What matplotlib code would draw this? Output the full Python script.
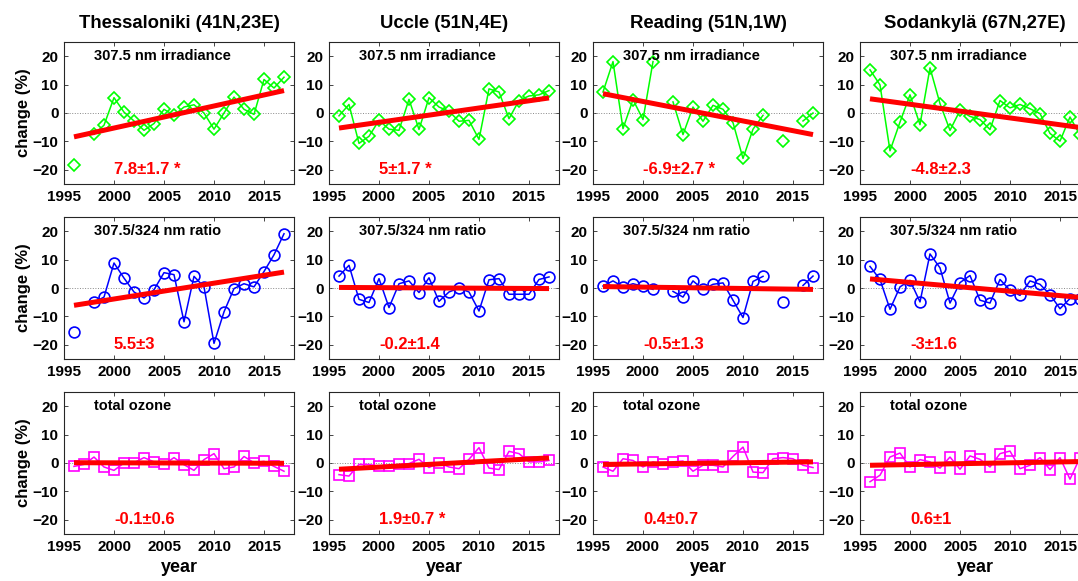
import numpy as np
import matplotlib.pyplot as plt

plt.rcParams['font.family'] = ['Liberation Sans', 'DejaVu Sans']
plt.rcParams['font.weight'] = 'bold'

nan = np.nan
years = [1996, 1997, 1998, 1999, 2000, 2001, 2002, 2003, 2004, 2005, 2006,
         2007, 2008, 2009, 2010, 2011, 2012, 2013, 2014, 2015, 2016, 2017]

stations = ['Thessaloniki (41N,23E)', 'Uccle (51N,4E)', 'Reading (51N,1W)', 'Sodankylä (67N,27E)']
row_names = ['307.5 nm irradiance', '307.5/324 nm ratio', 'total ozone']

# 307.5 nm irradiance (% change)
irr_thessaloniki = [-18.3, nan, -7.5, -4.3, 5.4, 0.3, -2.8, -6.1, -3.7, 1.3, -0.8,
                    2.1, 2.9, 0.0, -5.7, 0.0, 5.6, 1.3, -0.5, 11.8, 8.8, 12.6]
irr_uccle = [-1.0, 3.0, -10.7, -8.2, -2.6, -5.7, -6.1, 4.8, -5.8, 5.4, 2.1,
             0.6, -2.9, -2.6, -9.3, 8.5, 7.4, -2.0, 4.4, 6.0, 6.4, 7.9]
irr_reading = [7.4, 18.1, -5.5, 4.7, -2.3, 18.1, nan, 3.9, -7.6, 2.1, -2.9,
               2.7, 1.3, -3.4, -16.0, -5.7, -0.8, nan, -9.9, nan, -2.8, 0.0]
irr_sodankyla = [15.2, 9.9, -13.3, -3.2, 6.4, -4.1, 15.9, 3.3, -6.1, 0.9, -1.2,
                 -2.3, -5.8, 4.4, 1.8, 3.0, 1.5, -0.2, -7.2, -9.9, -1.4, -7.8]

# 307.5/324 nm ratio (% change)
ratio_thessaloniki = [-15.4, nan, -5.1, -3.2, 8.8, 3.5, -1.4, -3.5, -0.6, 5.4, 4.7,
                      -11.9, 4.1, 0.4, -19.5, -8.4, -0.2, 1.5, 0.4, 5.8, 11.7, 19.1]
ratio_uccle = [4.2, 8.0, -4.0, -5.1, 3.3, -6.9, 1.5, 2.5, -1.6, 3.6, -4.7,
               -1.4, 0.0, -1.4, -8.1, 2.9, 3.3, -2.2, -2.2, -2.2, 3.0, 3.9]
ratio_reading = [0.7, 2.5, 0.4, 1.5, 0.6, -0.5, nan, -1.2, -3.2, 2.5, -0.5,
                 1.3, 1.8, -4.3, -10.4, 2.3, 4.1, nan, -5.1, nan, 0.9, 4.2]
ratio_sodankyla = [7.6, 3.0, -7.5, 0.4, 2.7, -4.9, 12.0, 7.1, -5.3, 1.9, 4.4,
                   -4.3, -5.3, 3.0, -0.8, -2.6, 2.5, 1.3, -2.3, -7.3, -3.7, -4.0]

# total ozone (% change)
ozone_thessaloniki = [-1.2, -0.5, 2.1, -1.4, -2.6, 0.0, 0.1, 1.9, 0.4, -0.5, 1.9,
                      -0.6, -2.6, 1.2, 3.3, -2.0, -1.4, 2.3, 0.1, 0.6, -1.2, -2.9]
ozone_uccle = [-4.1, -4.6, -0.5, -0.5, -1.2, -1.2, -0.5, -0.2, 1.3, -1.6, 0.1,
               -1.4, -2.0, 1.3, 5.4, -1.8, -2.3, 4.1, 3.3, 0.4, 0.4, 0.9]
ozone_reading = [-1.4, -2.9, 1.5, 0.9, -1.4, 0.4, -0.5, 0.4, 0.7, -2.9, -0.8,
                 -0.8, -1.4, 2.3, 5.6, -3.2, -3.4, 1.5, 1.9, 1.5, -0.8, -1.6]
ozone_sodankyla = [-6.6, -4.3, 2.1, 3.5, -1.4, 1.2, 0.4, -1.8, 2.1, -2.2, 2.5,
                   1.3, -1.4, 3.3, 4.2, -2.0, -0.8, 1.9, -2.3, 1.9, -5.7, 1.9]

# linear fit, value at 1996 and 2017
fit_irr = [(-8.4, 7.9), (-5.3, 5.3), (6.8, -7.6), (5.0, -5.1)]
fit_ratio = [(-6.1, 5.6), (0.2, -0.2), (0.5, -0.5), (3.2, -3.3)]
fit_ozone = [(0.1, -0.1), (-2.2, 1.8), (-0.5, 0.4), (-0.8, 0.5)]

trend_irr = ['7.8±1.7 *', '5±1.7 *', '-6.9±2.7 *', '-4.8±2.3']
trend_ratio = ['5.5±3', '-0.2±1.4', '-0.5±1.3', '-3±1.6']
trend_ozone = ['-0.1±0.6', '1.9±0.7 *', '0.4±0.7', '0.6±1']

rows = [
  ([irr_thessaloniki, irr_uccle, irr_reading, irr_sodankyla], fit_irr, trend_irr, '#00ff00', 'D', 6.6),
  ([ratio_thessaloniki, ratio_uccle, ratio_reading, ratio_sodankyla], fit_ratio, trend_ratio, '#0000ff', 'o', 7.8),
  ([ozone_thessaloniki, ozone_uccle, ozone_reading, ozone_sodankyla], fit_ozone, trend_ozone, '#ff00ff', 's', 6.8),
]

W, H = 1078, 581
fig = plt.figure(figsize=(W / 100, H / 100), dpi=100)
col_left = [64, 329, 593, 860]
row_top = [42, 217, 392]
aw, ah = 230, 142

for r, (series, fits, trends, color, marker, ms) in enumerate(rows):
  for c in range(4):
    ax = fig.add_axes([col_left[c] / W, 1 - (row_top[r] + ah) / H, aw / W, ah / H])
    ax.plot([1995, 2018], [0, 0], color='#888888', ls=':', lw=0.7)
    ax.plot(years, series[c], color=color, marker=marker, ms=ms, mfc='none',
            mew=1.2, lw=1.1)
    ax.plot([years[0], years[-1]], fits[c], color='red', lw=3.6, solid_capstyle='butt')
    ax.text(1998, 20, row_names[r], fontsize=10.5, fontweight='bold', ha='left', va='center')
    ax.text(2000, -20, trends[c], fontsize=12, fontweight='bold', color='red', ha='left', va='center')
    ax.set_xlim(1995, 2018)
    ax.set_ylim(-25, 25)
    ax.set_xticks([1995, 2000, 2005, 2010, 2015])
    ax.set_yticks([-20, -10, 0, 10, 20])
    ax.tick_params(direction='in', top=True, right=True, length=3, width=0.6,
                   color='#262626', labelsize=11, pad=4)
    for lab in ax.get_xticklabels() + ax.get_yticklabels():
      lab.set_fontweight('bold')
    for s in ax.spines.values():
      s.set_color('#262626')
      s.set_linewidth(0.8)
    if r == 0:
      ax.set_title(stations[c], fontsize=13.3, fontweight='bold', pad=10)
    if c == 0:
      ax.set_ylabel('change (%)', fontsize=12, fontweight='bold', labelpad=1)
    if r == 2:
      ax.set_xlabel('year', fontsize=13, fontweight='bold', labelpad=4)

fig.savefig('out.png', dpi=100)
